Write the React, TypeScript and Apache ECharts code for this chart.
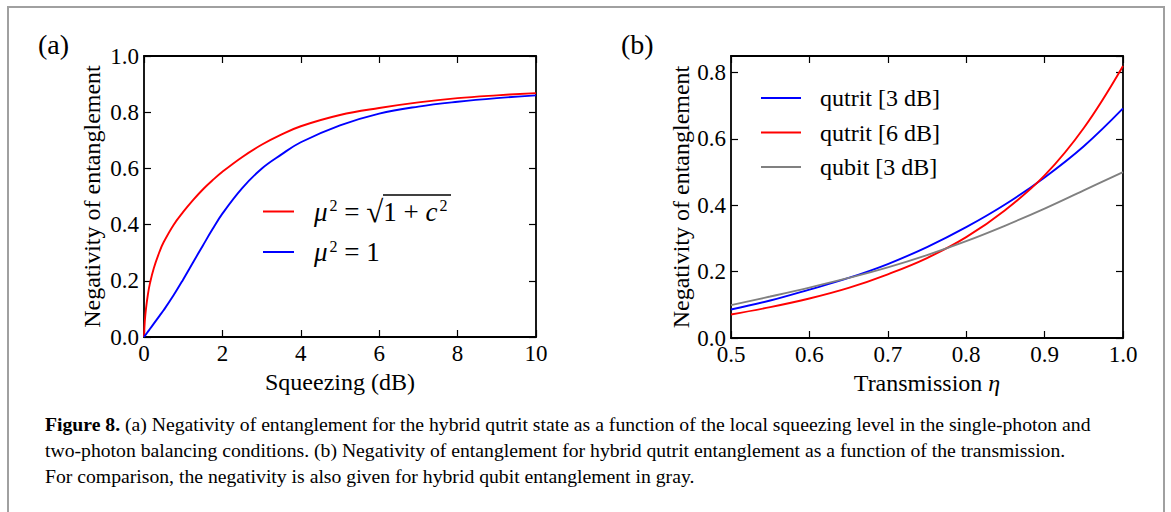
import React, { useEffect, useRef } from "react";
import * as echarts from "echarts";

// ---- Panel (a): negativity vs squeezing (dB) ----
const squeezingDb = [0, 0.02, 0.05, 0.1, 0.15, 0.25, 0.4, 0.5, 0.75, 1, 1.25, 1.5, 1.75, 2, 2.5, 3, 3.5, 4, 5, 6, 7, 8, 9, 10];
const negSqrtBalance = [0, 0.055, 0.1, 0.152, 0.19, 0.245, 0.305, 0.337, 0.398, 0.445, 0.487, 0.525, 0.558, 0.588, 0.64, 0.684, 0.72, 0.75, 0.79, 0.815, 0.835, 0.85, 0.86, 0.868];
const negUnitBalance = [0, 0.0038, 0.0095, 0.019, 0.0285, 0.0475, 0.076, 0.095, 0.1475, 0.205, 0.265, 0.325, 0.384, 0.439, 0.529, 0.599, 0.649, 0.693, 0.753, 0.795, 0.82, 0.837, 0.85, 0.86];

// ---- Panel (b): negativity vs transmission eta ----
const transmission = [0.5, 0.55, 0.6, 0.65, 0.7, 0.75, 0.8, 0.85, 0.9, 0.95, 1.0];
const qutrit3dB = [0.086, 0.113, 0.146, 0.181, 0.223, 0.274, 0.334, 0.403, 0.484, 0.578, 0.692];
const qutrit6dB = [0.071, 0.093, 0.119, 0.151, 0.192, 0.241, 0.304, 0.386, 0.49, 0.633, 0.82];
const qubit3dB = [0.099, 0.125, 0.152, 0.181, 0.213, 0.25, 0.292, 0.339, 0.39, 0.445, 0.5];

const captionLines = [
  "(a) Negativity of entanglement for the hybrid qutrit state as a function of the local squeezing level in the single-photon and",
  "two-photon balancing conditions. (b) Negativity of entanglement for hybrid qutrit entanglement as a function of the transmission.",
  "For comparison, the negativity is also given for hybrid qubit entanglement in gray.",
];

const FONT = "'Liberation Serif', 'DejaVu Serif', serif";

const pairs = (xs: number[], ys: number[]) => xs.map((x, i) => [x, ys[i]]);

export default function App() {
  const ref = useRef<HTMLDivElement>(null);
  useEffect(() => {
    if (!ref.current) return;
    const chart = echarts.init(ref.current, null, { renderer: "svg" });

    const axisLine = { show: true, onZero: false, lineStyle: { color: "#000", width: 1.8 } };
    const tick = { show: true, inside: true, length: 7, lineStyle: { color: "#000", width: 1.2 } };
    const lbl = (fmt: (v: number) => string, extra: any = {}) => ({
      show: true,
      color: "#000",
      fontFamily: FONT,
      fontSize: 23,
      margin: 5,
      formatter: fmt,
      ...extra,
    });
    const nameStyle = { color: "#000", fontFamily: FONT, fontSize: 24 };
    const f1 = (v: number) => v.toFixed(1);
    const f0 = (v: number) => String(Math.round(v));
    const hidden = { show: false };

    const option: any = {
      animation: false,
      backgroundColor: "#fff",
      grid: [
        { left: 144, top: 56, width: 392, height: 281 },
        { left: 731, top: 56, width: 392, height: 282 },
      ],
      xAxis: [
        {
          type: "value", gridIndex: 0, min: 0, max: 10, interval: 2, position: "bottom",
          axisLine, axisTick: tick, axisLabel: lbl(f0), splitLine: hidden,
          name: "Squeezing (dB)", nameLocation: "middle", nameGap: 32, nameTextStyle: nameStyle,
        },
        {
          type: "value", gridIndex: 0, min: 0, max: 10, interval: 2, position: "top",
          axisLine, axisTick: tick, axisLabel: hidden, splitLine: hidden,
        },
        {
          type: "value", gridIndex: 1, min: 0.5, max: 1.0, interval: 0.1, position: "bottom",
          axisLine, axisTick: tick, axisLabel: lbl(f1), splitLine: hidden,
          name: "Transmission {i|η}", nameLocation: "middle", nameGap: 32,
          nameTextStyle: { ...nameStyle, rich: { i: { ...nameStyle, fontStyle: "italic" } } },
        },
        {
          type: "value", gridIndex: 1, min: 0.5, max: 1.0, interval: 0.1, position: "top",
          axisLine, axisTick: tick, axisLabel: hidden, splitLine: hidden,
        },
      ],
      yAxis: [
        {
          type: "value", gridIndex: 0, min: 0, max: 1.0, interval: 0.2, position: "left",
          axisLine, axisTick: tick, axisLabel: lbl(f1), splitLine: hidden,
          name: "Negativity of entanglement", nameLocation: "middle", nameGap: 40, nameTextStyle: nameStyle,
        },
        {
          type: "value", gridIndex: 0, min: 0, max: 1.0, interval: 0.2, position: "right",
          axisLine, axisTick: tick, axisLabel: hidden, splitLine: hidden,
        },
        {
          type: "value", gridIndex: 1, min: 0, max: 0.85, interval: 0.2, position: "left",
          axisLine, axisTick: tick, axisLabel: lbl(f1, { showMaxLabel: false }), splitLine: hidden,
          name: "Negativity of entanglement", nameLocation: "middle", nameGap: 35, nameTextStyle: nameStyle,
        },
        {
          type: "value", gridIndex: 1, min: 0, max: 0.85, interval: 0.2, position: "right",
          axisLine, axisTick: tick, axisLabel: hidden, splitLine: hidden,
        },
      ],
      legend: [
        {
          data: ["sqrt", "one"],
          orient: "vertical",
          left: 263,
          top: 196,
          padding: 0,
          icon: "rect",
          itemWidth: 31,
          itemHeight: 2,
          itemGap: 10,
          formatter: (n: string) =>
            n === "sqrt"
              ? "{i|μ}{s|2}{t| = }{r|√}{t|1 + }{i|c}{s|2}"
              : "{i|μ}{s|2}{t| = 1}",
          textStyle: {
            padding: [0, 0, 0, 15],
            rich: {
              i: { fontFamily: FONT, fontStyle: "italic", fontSize: 27, color: "#000", lineHeight: 30 },
              t: { fontFamily: FONT, fontSize: 27, color: "#000", lineHeight: 30 },
              r: { fontFamily: FONT, fontSize: 31, color: "#000", lineHeight: 30 },
              s: { fontFamily: FONT, fontSize: 16, color: "#000", lineHeight: 30, verticalAlign: "top", padding: [1, 0, 0, 2] },
            },
          },
        },
        {
          data: ["qutrit [3 dB]", "qutrit [6 dB]", "qubit [3 dB]"],
          orient: "vertical",
          left: 761,
          top: 86,
          padding: 0,
          icon: "rect",
          itemWidth: 40,
          itemHeight: 2,
          itemGap: 10.5,
          textStyle: {
            fontFamily: FONT, fontSize: 24, color: "#000", lineHeight: 24,
            padding: [0, 0, 0, 14],
          },
        },
      ],
      series: [
        {
          name: "sqrt", type: "line", xAxisIndex: 0, yAxisIndex: 0, smooth: 0.4, symbol: "none",
          data: pairs(squeezingDb, negSqrtBalance),
          lineStyle: { color: "#ff0000", width: 1.9 }, itemStyle: { color: "#ff0000" },
        },
        {
          name: "one", type: "line", xAxisIndex: 0, yAxisIndex: 0, smooth: 0.4, symbol: "none",
          data: pairs(squeezingDb, negUnitBalance),
          lineStyle: { color: "#0000ff", width: 1.9 }, itemStyle: { color: "#0000ff" },
        },
        {
          name: "qutrit [3 dB]", type: "line", xAxisIndex: 2, yAxisIndex: 2, smooth: 0.4, symbol: "none",
          data: pairs(transmission, qutrit3dB),
          lineStyle: { color: "#0000ff", width: 1.9 }, itemStyle: { color: "#0000ff" },
        },
        {
          name: "qutrit [6 dB]", type: "line", xAxisIndex: 2, yAxisIndex: 2, smooth: 0.4, symbol: "none",
          data: pairs(transmission, qutrit6dB),
          lineStyle: { color: "#ff0000", width: 1.9 }, itemStyle: { color: "#ff0000" },
        },
        {
          name: "qubit [3 dB]", type: "line", xAxisIndex: 2, yAxisIndex: 2, smooth: 0.4, symbol: "none",
          data: pairs(transmission, qubit3dB),
          lineStyle: { color: "#808080", width: 1.9 }, itemStyle: { color: "#808080" },
        },
      ],
      graphic: [
        {
          type: "rect", silent: true,
          shape: { x: 8, y: 7, width: 1156, height: 520 },
          style: { fill: "none", stroke: "#a0a0a0", lineWidth: 2 },
        },
        { type: "text", left: 38, top: 30, style: { text: "(a)", font: `28px ${FONT}`, fill: "#000" } },
        { type: "text", left: 621, top: 30, style: { text: "(b)", font: `28px ${FONT}`, fill: "#000" } },
        {
          type: "line", silent: true,
          shape: { x1: 383, y1: 195, x2: 451, y2: 195 },
          style: { stroke: "#000", lineWidth: 1.6 },
        },
        {
          type: "text", left: 45, top: 414,
          style: {
            text: "{b|Figure 8.} " + captionLines[0],
            font: `19.7px ${FONT}`, fill: "#000",
            rich: { b: { fontFamily: FONT, fontSize: 19.7, fontWeight: "bold", fill: "#000" } },
          },
        },
        { type: "text", left: 45, top: 440, style: { text: captionLines[1], font: `19.7px ${FONT}`, fill: "#000" } },
        { type: "text", left: 45, top: 466, style: { text: captionLines[2], font: `19.7px ${FONT}`, fill: "#000" } },
      ],
    };

    chart.setOption(option);
    return () => chart.dispose();
  }, []);

  return (
    <div
      ref={ref}
      style={{ position: "absolute", left: 0, top: 0, width: 1171, height: 512, background: "#fff" }}
    />
  );
}
